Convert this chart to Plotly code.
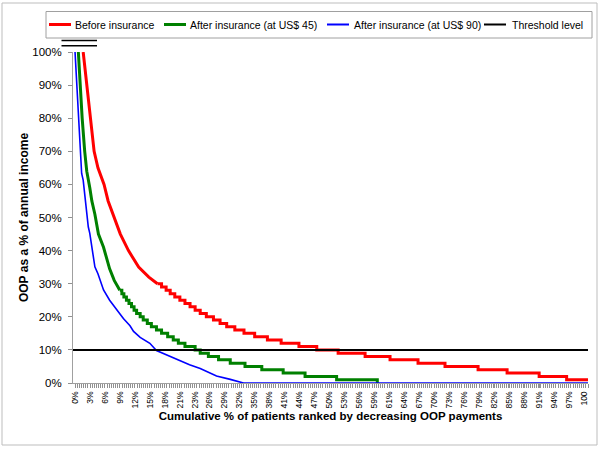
import plotly.graph_objects as go

# ---------------- data ----------------
# x: cumulative % of patients, y: OOP as % of annual income
red_top_x = [1.6, 2.3, 3.0, 3.75, 4.5, 5.7, 6.5, 7.7, 8.9, 10.5, 12.5, 14.5, 16.2]
red_top_y = [100, 90, 80, 70, 65, 60, 55, 50, 45, 40, 35, 32, 30]
red_step_x = [16.2, 17.0, 17.9, 18.7, 19.6, 20.6, 21.6, 22.6, 23.6, 24.6, 25.8, 27.2, 28.5,
              29.8, 31.4, 33.2, 35.3, 37.8, 40.5, 44.0, 47.5, 51.7, 57.0, 61.9, 67.4, 72.7,
              79.2, 84.9, 91.2, 96.6, 100.8]
red_step_y = [30, 29, 28, 27, 26, 25, 24, 23, 22, 21, 20, 19, 18,
              17, 16, 15, 14, 13, 12, 11, 10, 9, 8, 7, 6, 5,
              4, 3, 2, 1, 1]

green_top_x = [0.65, 1.0, 1.4, 1.9, 2.3, 2.9, 3.3, 3.9, 4.6, 5.6, 6.8, 7.7, 8.8]
green_top_y = [100, 90, 80, 70, 64, 59, 55, 51, 45, 41, 34.5, 31, 28]
green_step_x = [8.8, 9.2, 9.6, 10.1, 10.6, 11.1, 11.6, 12.1, 12.8, 13.4, 14.2, 15.0, 16.0,
                17.0, 18.2, 19.3, 20.3, 21.6, 23.6, 24.6, 26.2, 28.2, 30.5, 33.4, 36.7,
                40.9, 45.2, 51.4, 59.4]
green_step_y = [28, 27, 26, 25, 24, 23, 22, 21, 20, 19, 18, 17, 16,
                15, 14, 13, 12, 11, 10, 9, 8, 7, 6, 5, 4,
                3, 2, 1, 0]

blue_x = [0, 0.45, 0.85, 1.3, 1.6, 2.0, 2.3, 2.6, 2.9, 3.3, 3.9, 4.5, 5.6, 6.8, 8.2, 9.5,
          10.8, 11.5, 12.8, 14.7, 16.0, 18.0, 20.6, 22.5, 24.6, 26.5, 27.8, 30.5, 33.1, 100.8]
blue_y = [100, 86.5, 76.4, 63.3, 61.3, 55.3, 51.2, 47.2, 45.2, 41.2, 35.1, 33.0, 28.1, 25.0,
          22.1, 19.5, 17.3, 15.6, 13.8, 12.0, 9.8, 8.5, 6.6, 5.5, 4.4, 3.0, 2.1, 1.1, 0, 0]

threshold_level = 10
x_min, x_max = -0.4, 100.8

x_tick_labels = ["0%", "3%", "6%", "9%", "12%", "15%", "18%", "21%", "23%", "26%", "29%",
                 "32%", "35%", "38%", "41%", "44%", "47%", "50%", "53%", "56%", "59%",
                 "61%", "64%", "67%", "70%", "73%", "76%", "79%", "82%", "85%", "88%",
                 "91%", "94%", "97%", "100"]
y_tick_values = [0, 10, 20, 30, 40, 50, 60, 70, 80, 90, 100]

names = ["Before insurance", "After insurance (at US$ 45)",
         "After insurance (at US$ 90)", "Threshold level"]

# ---------------- figure ----------------
FONT = "Arial, Liberation Sans, sans-serif"
RED, GREEN, BLUE, BLACK = "#FF0000", "#008000", "#0000FF", "#000000"
colors = [RED, GREEN, BLUE, BLACK]
widths = [3, 3, 1.6, 2]

fig = go.Figure()
fig.add_trace(go.Scatter(x=red_top_x, y=red_top_y, mode="lines",
                         line=dict(color=RED, width=widths[0]), name=names[0]))
fig.add_trace(go.Scatter(x=red_step_x, y=red_step_y, mode="lines",
                         line=dict(color=RED, width=widths[0], shape="hv"), name=names[0]))
fig.add_trace(go.Scatter(x=green_top_x, y=green_top_y, mode="lines",
                         line=dict(color=GREEN, width=widths[1]), name=names[1]))
fig.add_trace(go.Scatter(x=green_step_x, y=green_step_y, mode="lines",
                         line=dict(color=GREEN, width=widths[1], shape="hv"), name=names[1]))
fig.add_trace(go.Scatter(x=blue_x, y=blue_y, mode="lines",
                         line=dict(color=BLUE, width=widths[2]), name=names[2]))
fig.add_trace(go.Scatter(x=[x_min, x_max], y=[threshold_level, threshold_level], mode="lines",
                         line=dict(color=BLACK, width=widths[3]), name=names[3]))

# pixel -> paper helpers (plot area 73..588 x, 52..383 y)
L, R, T, B = 73, 588, 52, 383
def px(x):
    return (x - L) / (R - L)
def py(y):
    return (B - y) / (B - T)

shapes = [
    # outer frame
    dict(type="rect", xref="paper", yref="paper", x0=px(2), x1=px(597), y0=py(445), y1=py(3),
         line=dict(color="#BDBDBD", width=1)),
    # two short black lines above the 100% label
    dict(type="line", xref="paper", yref="paper", x0=px(61.5), x1=px(97), y0=py(40.5), y1=py(40.5),
         line=dict(color="black", width=1.5)),
    dict(type="line", xref="paper", yref="paper", x0=px(61.5), x1=px(97), y0=py(45.7), y1=py(45.7),
         line=dict(color="black", width=1.5)),
    # legend frame
    dict(type="rect", xref="paper", yref="paper", x0=px(46), x1=px(592), y0=py(38), y1=py(11.5),
         line=dict(color="#A0A0A0", width=1), fillcolor="white"),
]
annotations = []
sample_x = [49, 164, 327, 484]
text_x = [73, 188, 352, 510]
LEG_Y = 24.5
for i in range(4):
    shapes.append(dict(type="line", xref="paper", yref="paper",
                       x0=px(sample_x[i]), x1=px(sample_x[i] + 22), y0=py(LEG_Y), y1=py(LEG_Y),
                       line=dict(color=colors[i], width=widths[i] if i != 2 else 2)))
    annotations.append(dict(text=names[i], xref="paper", yref="paper", x=px(text_x[i]), y=py(LEG_Y),
                            xanchor="left", yanchor="middle", showarrow=False,
                            font=dict(size=10.5, family=FONT, color="black")))

tick_step = 100 / (len(x_tick_labels) - 1)
fig.update_layout(
    width=600, height=450,
    margin=dict(l=L, r=600 - R, t=T, b=450 - B),
    paper_bgcolor="white", plot_bgcolor="white",
    font=dict(family=FONT, color="black"),
    showlegend=False,
    shapes=shapes, annotations=annotations,
    xaxis=dict(
        range=[x_min, x_max], showgrid=False, zeroline=False,
        showline=True, linecolor="#A0A0A0", linewidth=1,
        tickmode="array",
        tickvals=[i * tick_step for i in range(len(x_tick_labels))],
        ticktext=x_tick_labels, tickangle=-90,
        ticks="outside", ticklen=4, tickcolor="#909090",
        tickfont=dict(size=8.5, family=FONT),
        minor=dict(ticks="outside", ticklen=4, dtick=0.42, tick0=0, tickcolor="#909090"),
        title=dict(text="<b>Cumulative % of patients ranked by decreasing OOP payments</b>",
                   font=dict(size=11.5, family=FONT), standoff=4),
    ),
    yaxis=dict(
        range=[0, 100], showgrid=False, zeroline=False,
        showline=True, linecolor="#A0A0A0", linewidth=1,
        tickmode="array", tickvals=y_tick_values,
        ticktext=[f"{v}%" for v in y_tick_values],
        ticks="outside", ticklen=4, tickcolor="#909090",
        tickfont=dict(size=11.5, family=FONT),
        ticklabelstandoff=4,
        title=dict(text="<b>OOP as a % of annual income</b>",
                   font=dict(size=12, family=FONT), standoff=1),
    ),
)

fig.write_html("out.html", config={"displayModeBar": False},
               post_script="document.body.style.margin='0';document.body.style.overflow='hidden';")
